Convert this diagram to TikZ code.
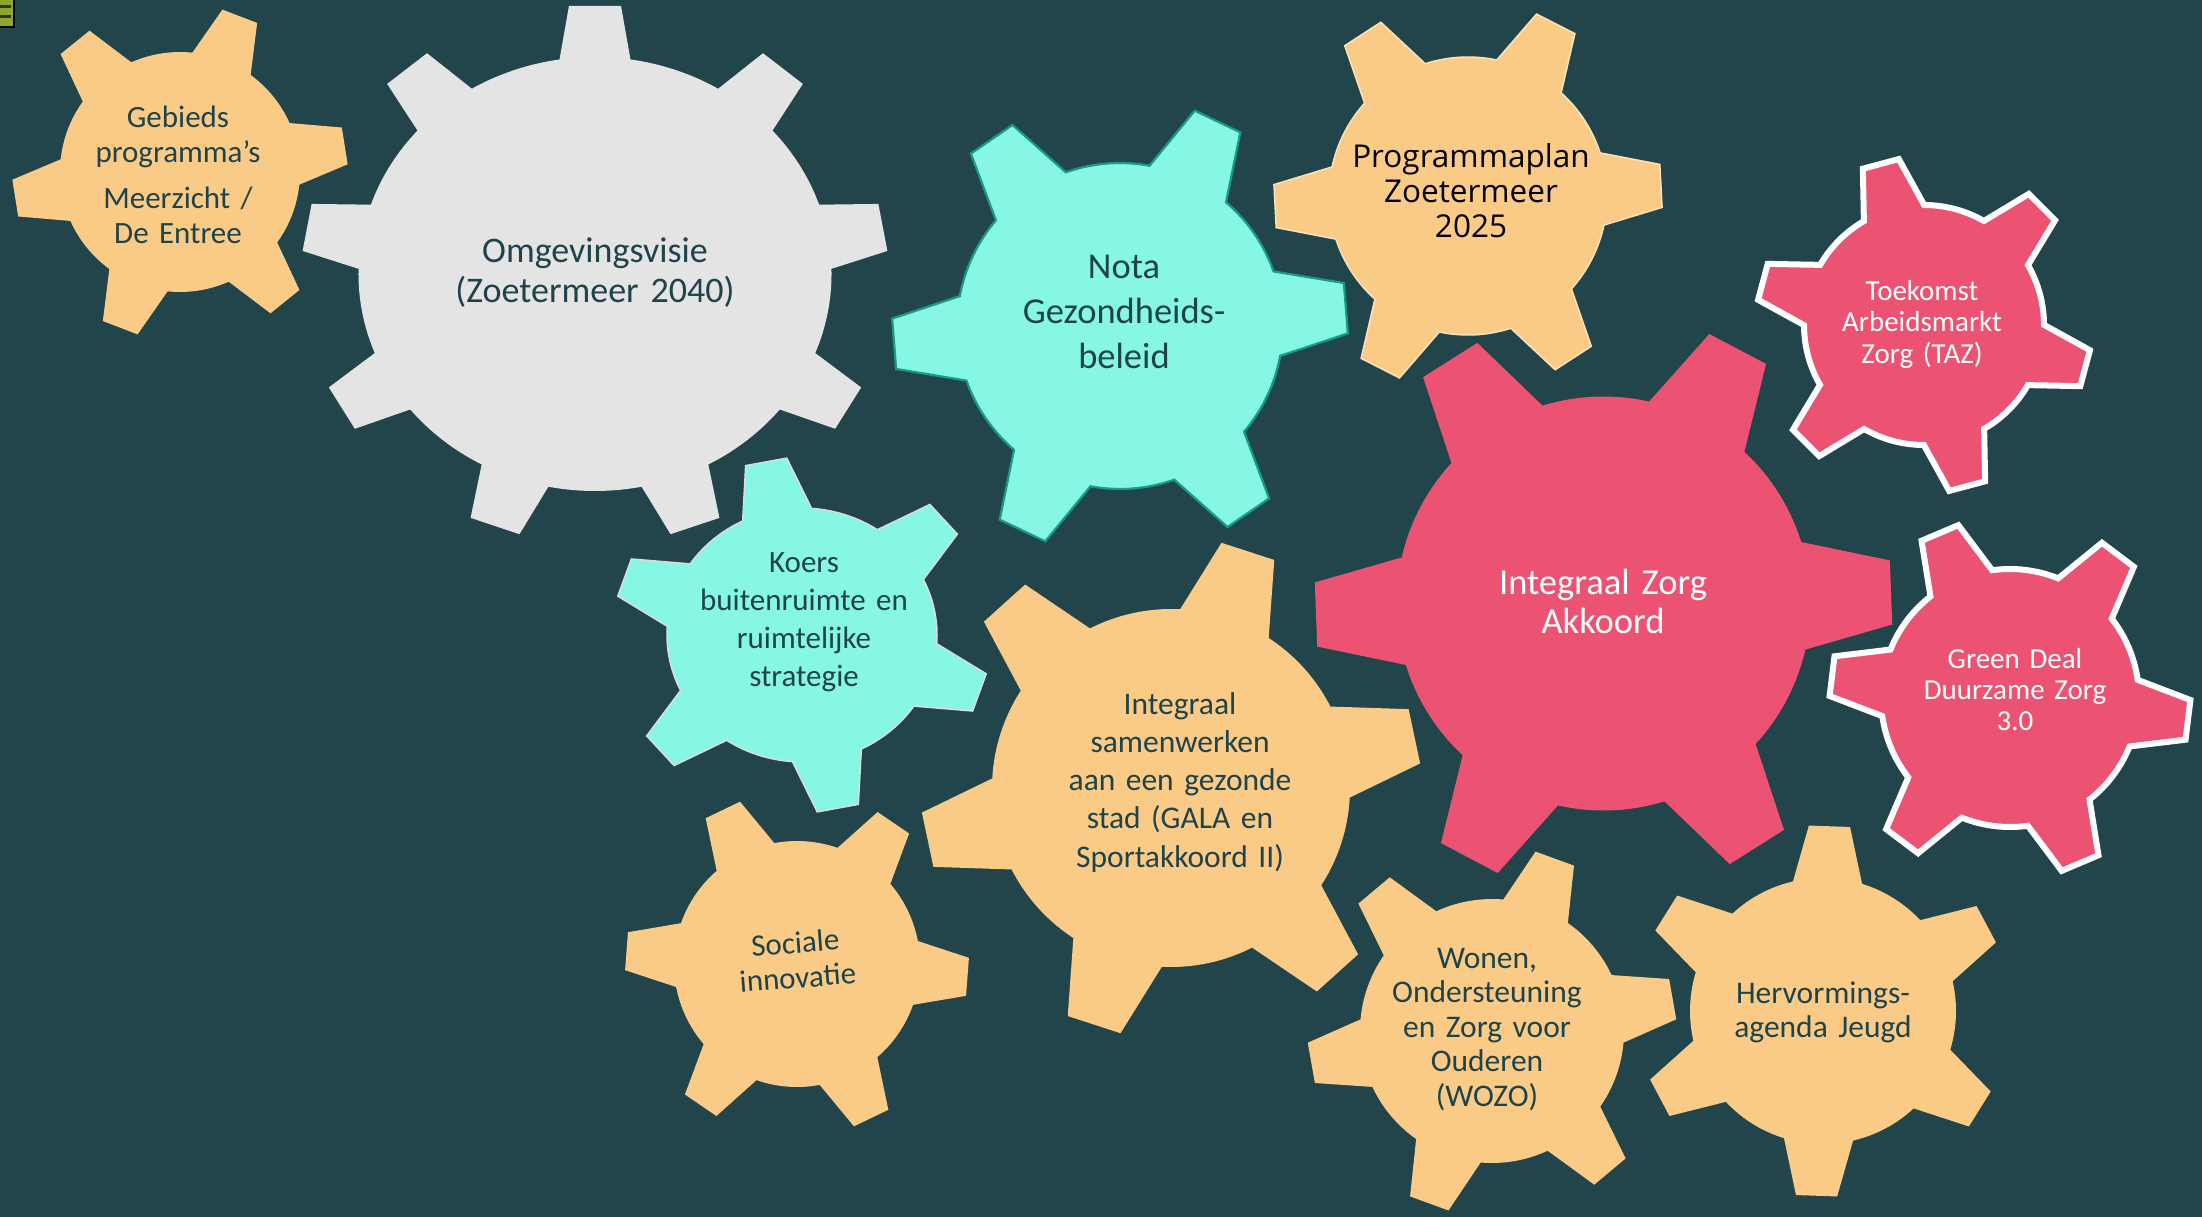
\documentclass[tikz,border=0pt]{standalone}
\usepackage{fontspec}
\setmainfont{Carlito}
\newfontfamily\osans{Open Sans}
\definecolor{bgc}{HTML}{22454B}
\definecolor{orgc}{HTML}{F9CB87}
\definecolor{grayc}{HTML}{E4E4E4}
\definecolor{cyanc}{HTML}{86F7E4}
\definecolor{pinkc}{HTML}{EC5373}
\definecolor{txtc}{HTML}{1F434A}
\definecolor{notab}{HTML}{18998A}
\definecolor{progb}{HTML}{FCE2B8}
\definecolor{koersb}{HTML}{DCDCDC}
\definecolor{iconc}{HTML}{8DA62B}
\tikzset{
  gorange/.style={fill=orgc},
  ggray/.style={fill=grayc},
  gnota/.style={fill=cyanc, draw=notab, line width=2.2pt, line join=miter},
  gkoers/.style={fill=cyanc, draw=koersb, line width=1.5pt},
  gprog/.style={fill=orgc, draw=progb, line width=1.5pt},
  gpink/.style={fill=pinkc},
  gpinkw/.style={fill=pinkc, draw=white, line width=6pt, line join=miter},
  lbl/.style={text width=500pt, align=center, inner sep=0pt, anchor=base, text=txtc},
}
\newcommand\fsz[2]{\fontsize{#1}{#2}\selectfont}
% six-tooth gear: style, cx, cy, r, phase (deg, counter-clockwise), yscale
\newcommand\gearsix[6]{%
  \begin{scope}[shift={(#2,#3)},yscale=#6]
    \pgfmathsetmacro\gR{1.39*#4}
    \pgfmathsetmacro\gab{asin(0.26)}
    \pgfmathsetmacro\gb{atan(0.155/1.39)}
    \pgfmathsetmacro\grho{\gR/cos(\gb)}
    \pgfmathsetmacro\gts{-(#5)}
    \path[#1] ({\gts-\gab}:#4) \foreach \gi in {0,...,5}{
      -- ({\gts+60*\gi-\gb}:\grho) -- ({\gts+60*\gi+\gb}:\grho)
      -- ({\gts+60*\gi+\gab}:#4)
      arc[start angle={\gts+60*\gi+\gab}, end angle={\gts+60*\gi+60-\gab}, radius=#4]} -- cycle;
  \end{scope}}
% nine-tooth gear: style, cx, cy, r, phase, xscale
\newcommand\gearnine[6]{%
  \begin{scope}[shift={(#2,#3)},xscale=#6]
    \pgfmathsetmacro\gR{1.236*#4}
    \pgfmathsetmacro\gab{asin(0.15)}
    \pgfmathsetmacro\gb{atan(0.11/1.236)}
    \pgfmathsetmacro\grho{\gR/cos(\gb)}
    \pgfmathsetmacro\gts{-(#5)}
    \path[#1] ({\gts-\gab}:#4) \foreach \gi in {0,...,8}{
      -- ({\gts+40*\gi-\gb}:\grho) -- ({\gts+40*\gi+\gb}:\grho)
      -- ({\gts+40*\gi+\gab}:#4)
      arc[start angle={\gts+40*\gi+\gab}, end angle={\gts+40*\gi+40-\gab}, radius=#4]} -- cycle;
  \end{scope}}
\begin{document}
\begin{tikzpicture}[x=1pt,y=-1pt]
  \useasboundingbox (0,0) rectangle (2202,1217);
  \fill[bgc] (0,0) rectangle (2202,1217);
  \clip (0,0) rectangle (2202,1217);
  % icon top-left
  \fill[iconc, draw=black, line width=1.5pt] (-3,-3) rectangle (14,27);
  \fill[black!80] (0,5) rectangle (11,8);
  \fill[black!80] (0,15) rectangle (11,18);
  % gears
  \gearsix{gorange}{180}{172}{120}{9}{1}
  \gearnine{ggray}{595}{274}{217}{90}{1.09}
  \gearsix{gnota}{1120}{326}{163}{4.5}{1}
  \gearsix{gprog}{1468}{196}{139}{3}{1}
  \gearsix{gpinkw}{1924}{325}{120}{45}{1}
  \gearsix{gpink}{1603.5}{603.5}{207}{2.2}{1}
  \gearsix{gpinkw}{2010}{698}{129}{-7}{1}
  \gearsix{gkoers}{802}{635}{135}{41}{0.94}
  \gearsix{gorange}{1171}{788}{179}{12}{1}
  \gearsix{gorange}{797}{964}{123}{-4.3}{1}
  \gearsix{gorange}{1492}{1031}{132}{10}{1}
  \gearsix{gorange}{1823}{1011}{133}{28}{1}
  % labels
  \node[lbl, font=\fsz{31}{35}] (gebieds) at (178,128) {Gebieds\\programma’s\\[11pt]Meerzicht /\\De Entree};
  \node[lbl, font=\fsz{36}{40}] (omgeving) at (595,262) {Omgevingsvisie\\(Zoetermeer 2040)};
  \node[lbl, font=\fsz{36.5}{45}] (nota) at (1124,278) {Nota\\Gezondheids-\\beleid};
  \node[lbl, font=\osans\fsz{31.5}{35}, text=black] (prog) at (1471,168) {Programmaplan\\Zoetermeer\\2025};
  \node[lbl, font=\fsz{29}{31.7}, text=white] (taz) at (1922,300) {Toekomst\\Arbeidsmarkt\\Zorg (TAZ)};
  \node[lbl, font=\fsz{36.5}{39.5}, text=white] (iza) at (1603,594) {Integraal Zorg\\Akkoord};
  \node[lbl, font=\fsz{29}{31}, text=white] (green) at (2015,668) {Green Deal\\Duurzame Zorg\\3.0};
  \node[lbl, font=\fsz{31}{38.3}] (koers) at (804,572) {Koers\\buitenruimte en\\ruimtelijke\\strategie};
  \node[lbl, font=\fsz{31.5}{38.3}] (samen) at (1180,714) {Integraal\\samenwerken\\aan een gezonde\\stad (GALA en\\Sportakkoord II)};
  \node[lbl, font=\fsz{31}{35}, rotate=4.3] (sociale) at (796,953) {Sociale\\innovatie};
  \node[lbl, font=\fsz{31.5}{34.6}] (wozo) at (1487,968) {Wonen,\\Ondersteuning\\en Zorg voor\\Ouderen\\(WOZO)};
  \node[lbl, font=\fsz{31.5}{34}] (jeugd) at (1823,1003) {Hervormings-\\agenda Jeugd};
\end{tikzpicture}
\end{document}
